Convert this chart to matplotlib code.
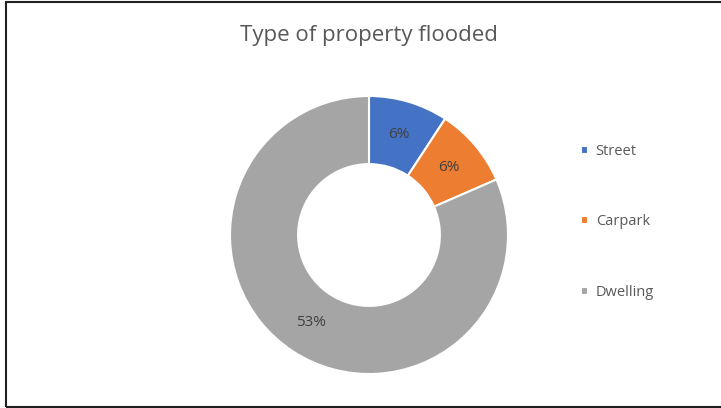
import matplotlib
matplotlib.use("Agg")
import matplotlib.pyplot as plt
from matplotlib.patches import Rectangle

categories = ["Street", "Carpark", "Dwelling"]
values = [6, 6, 53]
colors = ["#4472C4", "#ED7D31", "#A5A5A5"]
title = "Type of property flooded"

plt.rcParams["font.family"] = ["Open Sans", "DejaVu Sans"]

total = sum(values)
W, H = 721, 408


def value_label(pct):
    return f"{round(pct * total / 100)}%"


def main():
    fig = plt.figure(figsize=(W / 100, H / 100), dpi=100)
    ax = fig.add_axes([230 / W, 34 / H, 278 / W, 278 / H])

    wedges, texts, autotexts = ax.pie(
        values, colors=colors, startangle=90, counterclock=False,
        radius=1.0, autopct=value_label, pctdistance=0.755,
        wedgeprops=dict(width=0.49, edgecolor="white", linewidth=1.5),
        textprops=dict(color="#404040", fontsize=11))
    ax.set_xlim(-1, 1)
    ax.set_ylim(-1, 1)
    ax.set_aspect("equal")

    fig.text(369 / W, 1 - 36 / H, title, ha="center", va="center",
             fontsize=16, color="#595959")

    fig.legend(wedges, categories, loc="center left",
               bbox_to_anchor=(568 / W, 1 - 222 / H), frameon=False,
               fontsize=10.5, labelcolor="#595959", handlelength=0.5,
               handleheight=0.5, handletextpad=0.5, labelspacing=3.8)

    # chart border (left, top and bottom visible in the screenshot)
    fig.patches.append(Rectangle((6 / W, 1.5 / H), 1, 1 - 3.5 / H,
                                 transform=fig.transFigure, fill=False,
                                 edgecolor="#202020", linewidth=1.5))

    fig.savefig("out.png", dpi=100)
    plt.close(fig)


if __name__ == "__main__":
    main()
